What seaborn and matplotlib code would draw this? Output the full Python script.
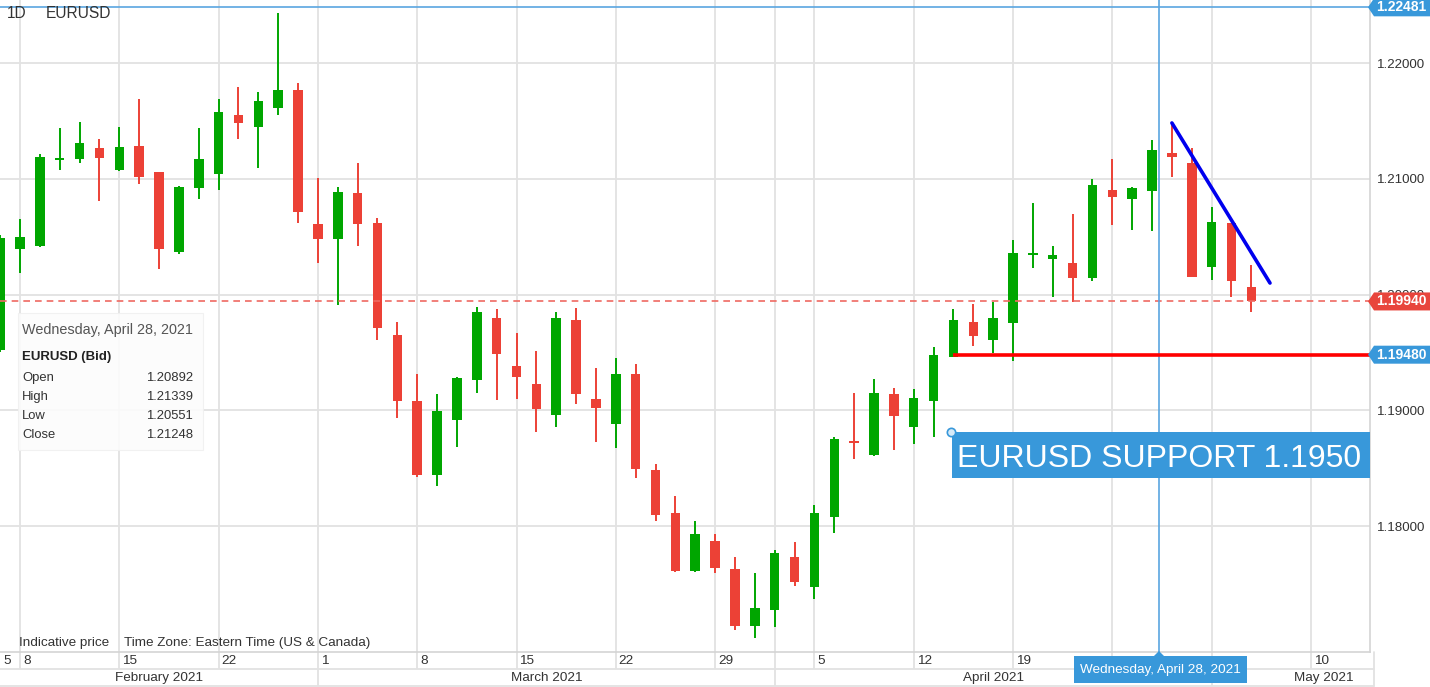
import numpy as np
import pandas as pd
import matplotlib.pyplot as plt
from matplotlib.patches import Rectangle, Polygon
import seaborn as sns

# --- Data (EURUSD daily candles, Feb 5 - May 5 2021) ---
SYMBOL = "EURUSD"
FIRST_DAY = "2021-02-05"
LAST_DAY = "2021-05-05"

OPEN = [1.19521, 1.20393, 1.20419, 1.21162, 1.21171, 1.21266, 1.21076, 1.21283,
        1.21058, 1.20367, 1.20920, 1.21041, 1.21551, 1.21447, 1.21611, 1.21767,
        1.20609, 1.20479, 1.20877, 1.20618, 1.19650, 1.19080, 1.18441, 1.18916,
        1.19261, 1.19797, 1.19382, 1.19227, 1.18959, 1.19780, 1.19097, 1.18881,
        1.19313, 1.18484, 1.18112, 1.17611, 1.17870, 1.17628, 1.17136, 1.17274,
        1.17732, 1.17473, 1.18078, 1.18726, 1.18613, 1.19140, 1.18855, 1.19080,
        1.19460, 1.19762, 1.19607, 1.19754, 1.20341, 1.20307, 1.20272, 1.20143,
        1.20903, 1.20825, 1.20892, 1.21222, 1.21136, 1.20238, 1.20618, 1.20065]
HIGH = [1.20510, 1.20652, 1.21214, 1.21438, 1.21490, 1.21343, 1.21447, 1.21689,
        1.21060, 1.20937, 1.21438, 1.21689, 1.21793, 1.21749, 1.22432, 1.21827,
        1.21006, 1.20929, 1.21136, 1.20661, 1.19762, 1.19313, 1.19140, 1.19285,
        1.19892, 1.19875, 1.19667, 1.19512, 1.19849, 1.19883, 1.19365, 1.19451,
        1.19400, 1.18536, 1.18259, 1.18043, 1.17931, 1.17732, 1.17594, 1.17793,
        1.17862, 1.18181, 1.18769, 1.19149, 1.19270, 1.19192, 1.19184, 1.19546,
        1.19875, 1.19918, 1.19935, 1.20471, 1.20790, 1.20419, 1.20695, 1.20998,
        1.21171, 1.20929, 1.21339, 1.21482, 1.21266, 1.20756, 1.20620, 1.20255]
LOW = [1.19500, 1.20186, 1.20410, 1.21076, 1.21136, 1.20808, 1.21070, 1.20955,
       1.20220, 1.20350, 1.20825, 1.20903, 1.21343, 1.21093, 1.21551, 1.20618,
       1.20272, 1.19909, 1.20419, 1.19607, 1.18933, 1.18423, 1.18346, 1.18683,
       1.19149, 1.19089, 1.19097, 1.18812, 1.18855, 1.19054, 1.18726, 1.18674,
       1.18415, 1.18043, 1.17603, 1.17603, 1.17594, 1.17101, 1.17032, 1.17127,
       1.17482, 1.17369, 1.17940, 1.18579, 1.18605, 1.18657, 1.18708, 1.18769,
       1.19460, 1.19555, 1.19495, 1.19426, 1.20229, 1.19978, 1.19935, 1.20117,
       1.20600, 1.20557, 1.20551, 1.21015, 1.20151, 1.20125, 1.19978, 1.19849]
CLOSE = [1.20488, 1.20497, 1.21188, 1.21179, 1.21309, 1.21179, 1.21274, 1.21015,
         1.20393, 1.20929, 1.21171, 1.21577, 1.21482, 1.21672, 1.21767, 1.20713,
         1.20479, 1.20886, 1.20609, 1.19711, 1.19080, 1.18441, 1.18994, 1.19279,
         1.19849, 1.19486, 1.19287, 1.19011, 1.19797, 1.19140, 1.19019, 1.19313,
         1.18492, 1.18095, 1.17611, 1.17931, 1.17637, 1.17136, 1.17292, 1.17767,
         1.17516, 1.18112, 1.18752, 1.18713, 1.19149, 1.18950, 1.19106, 1.19477,
         1.19780, 1.19641, 1.19797, 1.20359, 1.20354, 1.20341, 1.20143, 1.20946,
         1.20842, 1.20920, 1.21248, 1.21188, 1.20151, 1.20626, 1.20117, 1.19940]

PRICE_TICKS = [1.18, 1.19, 1.20, 1.21, 1.22]
DAY_TICKS = ["2021-02-05", "2021-02-08", "2021-02-15", "2021-02-22", "2021-03-01",
             "2021-03-08", "2021-03-15", "2021-03-22", "2021-03-29", "2021-04-05",
             "2021-04-12", "2021-04-19", "2021-05-10"]
DAY_LABELS = ["5", "8", "15", "22", "1", "8", "15", "22", "29", "5", "12", "19", "10"]
WEEK_LINES = ["2021-02-08", "2021-02-15", "2021-02-22", "2021-03-01", "2021-03-08",
              "2021-03-15", "2021-03-22", "2021-03-29", "2021-04-01", "2021-04-05",
              "2021-04-12", "2021-04-19", "2021-04-26", "2021-05-03", "2021-05-10"]
MONTH_STARTS = ["2021-03-01", "2021-04-01", "2021-05-03"]
MONTH_NAMES = ["February 2021", "March 2021", "April 2021", "May 2021"]

TOP_LINE = 1.22481
LAST_PRICE = 1.19940
SUPPORT = 1.19480
SUPPORT_FROM = "2021-04-14"
TREND_X = [59.0, 63.94]
TREND_Y = [1.21482, 1.20099]
CURSOR_DAY = "2021-04-28"
TOOLTIP_ROWS = [("Open", "1.20892"), ("High", "1.21339"), ("Low", "1.20551"), ("Close", "1.21248")]

# --- Styling ---
GREEN = "#00a600"
RED = "#ec4136"
BLUE = "#3898da"
GRID = "#e2e2e2"
TXT = "#333333"
W, H = 1430, 687


def day_index(d):
    return int(np.busday_count(FIRST_DAY, d))


def fx(px):
    return px / W


def fy(py):
    return 1 - py / H


sns.set_theme(style="white")
plt.rcParams["font.family"] = ["Liberation Sans", "DejaVu Sans"]

df = pd.DataFrame({"date": pd.bdate_range(FIRST_DAY, LAST_DAY),
                   "open": OPEN, "high": HIGH, "low": LOW, "close": CLOSE})
df["x"] = np.arange(len(df))
df["up"] = df["close"] >= df["open"]
df["color"] = np.where(df["up"], GREEN, RED)

fig = plt.figure(figsize=(W / 100, H / 100), dpi=100)
ax = fig.add_axes([0, 35 / H, 1370 / W, 652 / H])
ax.set_facecolor("white")

ylo = 1.22 - 589 / 11575
yhi = 1.22 + 63 / 11575
ax.set_ylim(ylo, yhi)
ax.set_xlim(-0.007, 68.975)

# grid
week_x = [day_index(d) for d in WEEK_LINES]
for xv in week_x:
    ax.axvline(xv, color=GRID, lw=1.3, zorder=0)
for yv in PRICE_TICKS:
    ax.axhline(yv, color=GRID, lw=1.3, zorder=0)

# candles
ax.vlines(df["x"], df["low"], df["high"], colors=df["color"], lw=1.4, zorder=2)
body_h = np.maximum((df["close"] - df["open"]).abs(), 0.00018)
body_b = np.minimum(df["open"], df["close"])
ax.bar(df["x"], body_h, bottom=body_b, width=0.48, color=df["color"], lw=0, zorder=3)

# overlays
ax.axhline(TOP_LINE, color="#5aa6e0", lw=1.2, zorder=4)
ax.axhline(LAST_PRICE, color="#ef6a62", lw=1.2, ls=(0, (4, 3)), zorder=4)
sx = day_index(SUPPORT_FROM) - 0.03
ax.plot([sx, 68.975], [SUPPORT, SUPPORT], color="#ff0000", lw=2.6, zorder=5,
        solid_capstyle="butt")
sns.lineplot(x=TREND_X, y=TREND_Y, ax=ax, color="#0000ee", lw=2.6, zorder=6)
cursor_x = day_index(CURSOR_DAY) + 0.35
ax.axvline(cursor_x, color="#5aa6e0", lw=1.2, zorder=4)

# support annotation box
bx0 = sx - 0.05
ax.add_patch(Rectangle((bx0, 1.18415), 68.975 - bx0, 1.18812 - 1.18415,
                       facecolor=BLUE, edgecolor="none", zorder=7))
ax.text(bx0 + 0.27, 1.18510, "EURUSD SUPPORT 1.1950", color="white", fontsize=23,
        va="baseline", ha="left", zorder=8)
ax.plot([bx0 - 0.05], [1.18812], marker="o", ms=6, mfc="#d6eaf8", mec=BLUE, mew=1.2,
        zorder=9, clip_on=False)

# right axis
ax.yaxis.tick_right()
ax.set_yticks(PRICE_TICKS)
ax.set_yticklabels([f"{v:.5f}" for v in PRICE_TICKS])
ax.tick_params(axis="y", length=0, pad=5, labelsize=9.6, labelcolor=TXT)
ax.set_xticks([])
for s in ["top", "left"]:
    ax.spines[s].set_visible(False)
for s in ["right", "bottom"]:
    ax.spines[s].set_color("#d4d4d4")
    ax.spines[s].set_linewidth(1.2)

# bottom date rows
xt = ax.get_xaxis_transform()
r1 = (652 - 669) / 652
r2 = (652 - 686) / 652
ax.vlines(week_x, r1, 0, transform=xt, colors=GRID, lw=1.3, clip_on=False)
ms_x = [day_index(d) for d in MONTH_STARTS]
ax.vlines(ms_x, r2, r1, transform=xt, colors=GRID, lw=1.3, clip_on=False)
ax.plot([-0.01, 69.2], [r1, r1], transform=xt, color=GRID, lw=1.3, clip_on=False)
ax.plot([-0.01, 69.2], [r2, r2], transform=xt, color=GRID, lw=1.3, clip_on=False)
ax.plot([69.2, 69.2], [r2, 0], transform=xt, color=GRID, lw=1.3, clip_on=False)
for d, lab in zip(DAY_TICKS, DAY_LABELS):
    ax.text(day_index(d) + 0.15, (652 - 661) / 652, lab, transform=xt, fontsize=9.7,
            color=TXT, ha="left", va="center", clip_on=False)
edges = [0] + ms_x + [72.3]
for i, name in enumerate(MONTH_NAMES):
    ax.text((edges[i] + edges[i + 1]) / 2, (652 - 678) / 652, name, transform=xt,
            fontsize=9.7, color=TXT, ha="center", va="center", clip_on=False)

# header and footer text
fig.text(fx(7), fy(14), "1D", fontsize=11.2, color=TXT, va="center")
fig.text(fx(46), fy(14), SYMBOL, fontsize=11.2, color=TXT, va="center")
fig.text(fx(19), fy(643), "Indicative price", fontsize=9.7, color=TXT, va="center")
fig.text(fx(124), fy(643), "Time Zone: Eastern Time (US & Canada)", fontsize=9.7,
         color=TXT, va="center")

# tooltip
fig.add_artist(Rectangle((fx(18), fy(450)), (203 - 18) / W, (450 - 313) / H,
                         transform=fig.transFigure, facecolor="#fcfcfc", alpha=0.88,
                         edgecolor="#f0f0f0", lw=0.8, zorder=10))
fig.text(fx(22), fy(330), "Wednesday, April 28, 2021", fontsize=10.4, color="#555555",
         va="center", zorder=11)
fig.text(fx(22), fy(357), f"{SYMBOL} (Bid)", fontsize=9.5, color="#222222",
         fontweight="bold", va="center", zorder=11)
for k, (lab, val) in enumerate(TOOLTIP_ROWS):
    yy = 378 + 19 * k
    fig.text(fx(22), fy(yy), lab, fontsize=9.4, color=TXT, va="center", zorder=11)
    fig.text(fx(193), fy(yy), val, fontsize=9.4, color=TXT, va="center", ha="right",
             zorder=11)


# price tags on the right
def price_tag(price, color):
    yc = 63 + (1.22 - price) * 11575
    pts = [(1368, yc), (1374, yc - 9), (1430, yc - 9), (1430, yc + 9), (1374, yc + 9)]
    fig.add_artist(Polygon([(fx(a), fy(b)) for a, b in pts], closed=True,
                           transform=fig.transFigure, facecolor=color,
                           edgecolor="none", zorder=12))
    fig.text(fx(1376), fy(yc), f"{price:.5f}", fontsize=10, color="white",
             fontweight="bold", va="center", ha="left", zorder=13)


price_tag(TOP_LINE, BLUE)
price_tag(LAST_PRICE, "#e8453c")
price_tag(SUPPORT, BLUE)

# cursor date label
cpx = cursor_x * 19.86 + 0.14
fig.add_artist(Rectangle((fx(cpx - 85), fy(683)), 173 / W, 27 / H,
                         transform=fig.transFigure, facecolor=BLUE,
                         edgecolor="none", zorder=12))
fig.add_artist(Polygon([(fx(cpx - 5), fy(656)), (fx(cpx), fy(651)), (fx(cpx + 5), fy(656))],
                       closed=True, transform=fig.transFigure, facecolor=BLUE,
                       edgecolor="none", zorder=12))
fig.text(fx(cpx + 1), fy(669.5), "Wednesday, April 28, 2021", fontsize=9.7,
         color="white", ha="center", va="center", zorder=13)

fig.savefig("out.png", dpi=100, facecolor="white")
